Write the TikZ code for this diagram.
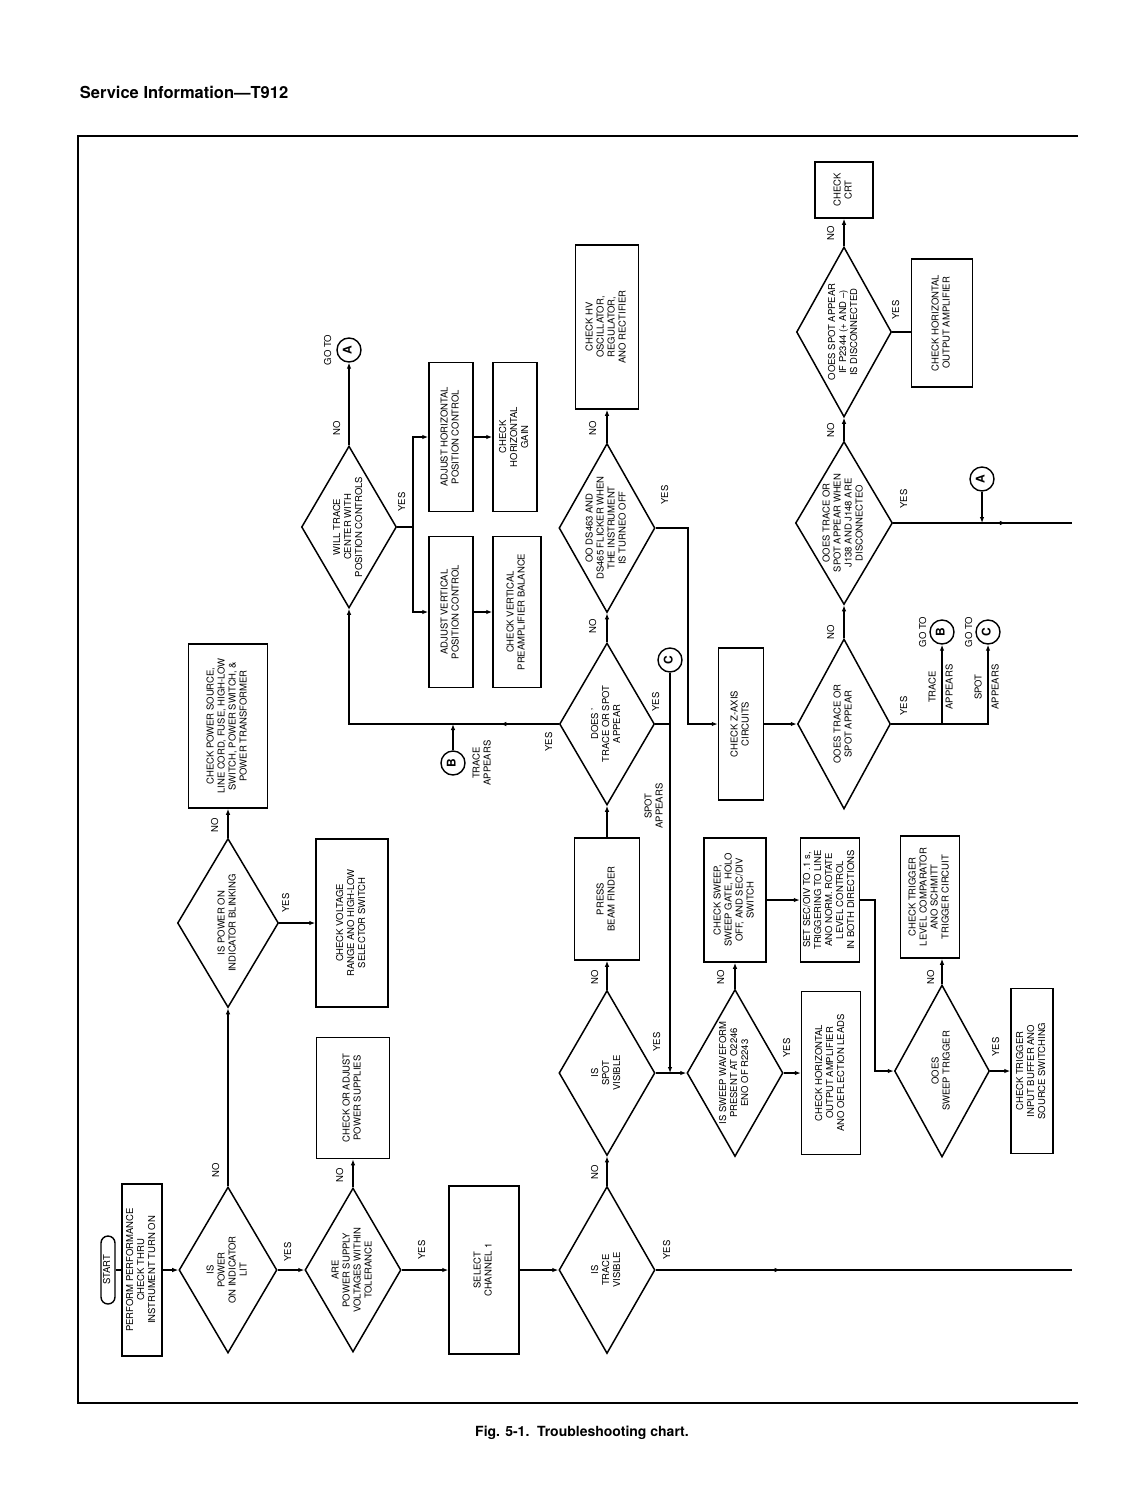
\documentclass[tikz,border=0pt]{standalone}
\usepackage{fontspec}
\setmainfont{TeX Gyre Heros}
\usetikzlibrary{positioning}
\usetikzlibrary{calc}
\usetikzlibrary{arrows.meta}
\usetikzlibrary{decorations.markings}
\usetikzlibrary{shapes.geometric}
\newcommand{\vtxt}[1]{\rotatebox{90}{\begin{tabular}{@{}c@{}}#1\end{tabular}}}
\tikzset{
  >={Latex[length=6pt,width=4.5pt]},
  flow/.style={line width=1.1pt},
  box/.style 2 args={draw, line width=1.5pt, rectangle, inner sep=0pt, minimum width=#1, minimum height=#2},
  decision/.style 2 args={draw, line width=1.5pt, diamond, aspect=0.58, inner sep=-8pt, minimum width=#1, minimum height=#2},
  gotocirc/.style={draw, line width=1.4pt, circle, inner sep=0pt, minimum size=24pt, font=\fontsize{12}{12}\selectfont\bfseries},
  midarrow/.style={postaction={decorate}, decoration={markings, mark=at position #1 with {\arrow{>}}}},
  lbl/.style={inner sep=0pt}
}

\begin{document}
\begin{tikzpicture}[x=1pt, y=-1pt, flow, every node/.style={font=\fontsize{9.5}{11}\selectfont}]
    \useasboundingbox (0,0) rectangle (1138,1496);
    % page header, frame and caption
    \node[anchor=west, font=\fontsize{16.5}{20}\selectfont\bfseries] (header) at (76,92) {Service Information---T912};
    \draw[line width=1.8pt] (1078,136) -- (78,136) -- (78,1403) -- (1078,1403);
    \node[font=\fontsize{14}{16}\selectfont\bfseries] (caption) at (582,1433) {Fig. 5-1.\ \ Troubleshooting chart.};

    % bottom row
    \node[draw, line width=1.4pt, rounded corners=7pt, inner sep=0pt, minimum width=14pt, minimum height=68pt] (start) at (108,1270) {\vtxt{START}};
    \node[box={40}{172}] (perform) at (142,1270) {\vtxt{PERFORM PERFORMANCE\\CHECK THRU\\INSTRUMENT TURN ON}};
    \node[decision={98}{166}] (powerlit) at (228,1270) {\vtxt{IS\\POWER\\ON INDICATOR\\LIT}};
    \node[decision={96}{164}] (supply) at (353,1270) {\vtxt{ARE\\POWER SUPPLY\\VOLTAGES WITHIN\\TOLERANCE}};
    \node[box={70}{168}] (select) at (484,1270) {\vtxt{SELECT\\CHANNEL 1}};
    \node[decision={96}{167}] (tracevis) at (607,1270) {\vtxt{IS\\TRACE\\VISIBLE}};
    \coordinate (eT) at (1072,1270);

    % power branch
    \node[decision={101}{169}] (blink) at (228,923) {\vtxt{IS POWER ON\\INDICATOR BLINKING}};
    \node[box={79}{164}] (pwrsrc) at (228,726) {\vtxt{CHECK POWER SOURCE,\\LINE CORD, FUSE, HIGH-LOW\\SWITCH, POWER SWITCH, \&\\POWER TRANSFORMER}};
    \node[box={72}{168}] (voltsel) at (352,923) {\vtxt{CHECK VOLTAGE\\RANGE ANO HIGH-LOW\\SELECTOR SWITCH}};
    \node[box={73}{121}] (adjsup) at (353,1098) {\vtxt{CHECK OR ADJUST\\POWER SUPPLIES}};

    % position controls
    \node[decision={95}{162}] (wtrace) at (349,527) {\vtxt{WILL TRACE\\CENTER WITH\\POSITION CONTROLS}};
    \node[gotocirc] (gotoA) at (349,350) {\vtxt{A}};
    \coordinate (ysplit) at (413,527);
    \node[box={44}{149}] (adjh) at (451,437) {\vtxt{ADJUST HORIZONTAL\\POSITION CONTROL}};
    \node[box={44}{149}] (chkhgain) at (515,437) {\vtxt{CHECK\\HORIZONTAL\\GAIN}};
    \node[box={44}{151}] (adjv) at (451,612) {\vtxt{ADJUST VERTICAL\\POSITION CONTROL}};
    \node[box={48}{151}] (chkvpre) at (517,612) {\vtxt{CHECK VERTICAL\\PREAMPLIFIER BALANCE}};

    % trace or spot column
    \node[decision={95}{162}] (dtrace) at (607,724) {\vtxt{DOES '\\TRACE OR SPOT\\APPEAR}};
    \node[gotocirc] (circB) at (453,763) {\vtxt{B}};
    \node[gotocirc] (circC) at (670,660) {\vtxt{C}};
    \node[decision={96}{169}] (ds463) at (607,528) {\vtxt{OO DS463 AND\\DS465 FLICKER WHEN\\THE INSTRUMENT\\IS TURNEO OFF}};
    \node[box={63}{164}] (chkhv) at (607,327) {\vtxt{CHECK HV\\OSCILLATOR,\\REGULATOR,\\ANO RECTIFIER}};
    \coordinate (dsturn) at (688,528);
    \node[box={65}{122}] (beam) at (607,899) {\vtxt{PRESS\\BEAM FINDER}};
    \node[decision={96}{165}] (spotvis) at (607,1073) {\vtxt{IS\\SPOT\\VISIBLE}};

    % sweep column
    \node[decision={96}{167}] (sweep) at (735,1073) {\vtxt{IS SWEEP WAVEFORM\\PRESENT AT O2246\\ENO OF R2243}};
    \node[box={62}{124}] (chksweep) at (735,900) {\vtxt{CHECK SWEEP,\\SWEEP GATE, HOLO\\OFF, AND SEC/DIV\\SWITCH}};
    \node[box={59}{163}] (chkhout) at (831,1073) {\vtxt{CHECK HORIZONTAL\\OUTPUT AMPLIFIER\\ANO OEFLECTION LEADS}};
    \node[box={59}{124}] (setsec) at (830,900) {\vtxt{SET SEC/OIV TO .1 s,\\TRIGGERING TO LINE\\ANO NORM. ROTATE\\LEVEL CONTROL\\IN BOTH DIRECTIONS}};
    \coordinate (sturn) at (875,900);
    \node[decision={95}{172}] (trig) at (942,1071) {\vtxt{OOES\\SWEEP TRIGGER}};
    \node[box={59}{122}] (chktrig) at (930,897) {\vtxt{CHECK TRIGGER\\LEVEL COMPARATOR\\ANO SCHMITT\\TRIGGER CIRCUIT}};
    \node[box={42}{165}] (chkbuf) at (1032,1071) {\vtxt{CHECK TRIGGER\\INPUT BUFFER ANO\\SOURCE SWITCHING}};

    % z-axis and crt column
    \node[box={45}{152}] (chkz) at (741,724) {\vtxt{CHECK Z-AXIS\\CIRCUITS}};
    \node[decision={93}{170}] (dtrace2) at (844,724) {\vtxt{OOES TRACE OR\\SPOT APPEAR}};
    \node[gotocirc] (goB) at (942,632) {\vtxt{B}};
    \node[gotocirc] (goC) at (988,632) {\vtxt{C}};
    \node[decision={97}{163}] (j138) at (844,523) {\vtxt{OOES TRACE OR\\SPOT APPEAR WHEN\\J138 AND J148 ARE\\DISCONNECTEO}};
    \node[gotocirc] (circA2) at (982,479) {\vtxt{A}};
    \coordinate (eA) at (1072,523);
    \node[decision={95}{170}] (p2344) at (844,332) {\vtxt{OOES SPOT APPEAR\\IF P2344 (+ AND --)\\IS DISCONNECTED}};
    \node[box={58}{56}] (chkcrt) at (844,190) {\vtxt{CHECK\\CRT}};
    \node[box={61}{128}] (chkhamp) at (942,323) {\vtxt{CHECK HORIZONTAL\\OUTPUT AMPLIFIER}};

    % connectors
    \draw (start) -- (perform);
    \draw[->] (perform) -- (powerlit);
    \draw[->] (powerlit) -- (supply);
    \draw[->] (supply) -- (select);
    \draw[->] (select) -- (tracevis);
    \draw[midarrow=0.3] (tracevis) -- (eT);
    \draw[->] (tracevis) -- (spotvis);
    \draw[->] (powerlit) -- (blink);
    \draw[->] (blink) -- (pwrsrc);
    \draw[->] (blink) -- (voltsel);
    \draw[->] (supply) -- (adjsup);
    \draw[->] (wtrace) -- (gotoA);
    \draw (wtrace) -- (ysplit);
    \draw[->] (ysplit) |- (adjh);
    \draw[->] (ysplit) |- (adjv);
    \draw[->] (adjh) -- (chkhgain);
    \draw[->] (adjv) -- (chkvpre);
    \draw[->, midarrow=0.18] (dtrace) -| (wtrace);
    \draw[->] (circB) -- (circB |- dtrace);
    \draw[->] (dtrace) -- (ds463);
    \draw[->] (ds463) -- (chkhv);
    \draw[->] (ds463) -- (dsturn) |- (chkz);
    \draw (dtrace) -- (dtrace -| circC);
    \draw[->] (circC) -- (circC |- spotvis);
    \draw[->] (beam) -- (dtrace);
    \draw[->] (spotvis) -- (beam);
    \draw[->] (spotvis) -- (sweep);
    \draw[->] (sweep) -- (chksweep);
    \draw[->] (sweep) -- (chkhout);
    \draw[->] (chksweep) -- (setsec);
    \draw[->] (setsec) -- (sturn) |- (trig);
    \draw[->] (trig) -- (trig |- chktrig.south);
    \draw[->] (trig) -- (chkbuf);
    \draw[->] (chkz) -- (dtrace2);
    \draw[->] (dtrace2) -- (j138);
    \draw[->] (dtrace2) -| (goC);
    \draw[->] (goB |- dtrace2) -- (goB);
    \draw[midarrow=0.63] (j138) -- (eA);
    \draw[->] (circA2) -- (circA2 |- j138);
    \draw[->] (j138) -- (p2344);
    \draw[->] (p2344) -- (chkcrt);
    \draw (p2344) -- (p2344 -| chkhamp.west);

    % yes / no labels
    \node[lbl] (noPower) at (217,1170) {\vtxt{NO}};
    \node[lbl] (yesPower) at (289,1252) {\vtxt{YES}};
    \node[lbl] (noSupply) at (341,1175) {\vtxt{NO}};
    \node[lbl] (yesSupply) at (423,1250) {\vtxt{YES}};
    \node[lbl] (noTrace) at (596,1172) {\vtxt{NO}};
    \node[lbl] (yesTrace) at (668,1250) {\vtxt{YES}};
    \node[lbl] (noBlink) at (216,825) {\vtxt{NO}};
    \node[lbl] (yesBlink) at (287,903) {\vtxt{YES}};
    \node[lbl] (noCenter) at (338,428) {\vtxt{NO}};
    \node[lbl] (gotoAtext) at (329,350) {\vtxt{GO TO}};
    \node[lbl] (yesCenter) at (403,502) {\vtxt{YES}};
    \node[lbl] (yesAppearL) at (550,742) {\vtxt{YES}};
    \node[lbl] (traceAppL) at (483,763) {\vtxt{TRACE\\APPEARS}};
    \node[lbl] (yesAppearR) at (657,702) {\vtxt{YES}};
    \node[lbl] (spotAppL) at (655,806) {\vtxt{SPOT\\APPEARS}};
    \node[lbl] (noAppear) at (594,626) {\vtxt{NO}};
    \node[lbl] (noFlicker) at (594,428) {\vtxt{NO}};
    \node[lbl] (yesFlicker) at (666,495) {\vtxt{YES}};
    \node[lbl] (noSpot) at (596,977) {\vtxt{NO}};
    \node[lbl] (yesSpot) at (658,1042) {\vtxt{YES}};
    \node[lbl] (noSweep) at (722,977) {\vtxt{NO}};
    \node[lbl] (yesSweep) at (788,1048) {\vtxt{YES}};
    \node[lbl] (noTrig) at (932,977) {\vtxt{NO}};
    \node[lbl] (yesTrig) at (997,1047) {\vtxt{YES}};
    \node[lbl] (noAppear2) at (832,632) {\vtxt{NO}};
    \node[lbl] (yesAppear2) at (905,706) {\vtxt{YES}};
    \node[lbl] (gotoBtext) at (924,632) {\vtxt{GO TO}};
    \node[lbl] (gotoCtext) at (970,632) {\vtxt{GO TO}};
    \node[lbl] (traceAppR) at (942,687) {\vtxt{TRACE\\[6pt]APPEARS}};
    \node[lbl] (spotAppR) at (988,687) {\vtxt{SPOT\\[6pt]APPEARS}};
    \node[lbl] (noJ138) at (832,430) {\vtxt{NO}};
    \node[lbl] (yesJ138) at (905,499) {\vtxt{YES}};
    \node[lbl] (noP2344) at (832,233) {\vtxt{NO}};
    \node[lbl] (yesP2344) at (897,310) {\vtxt{YES}};
\end{tikzpicture}
\end{document}
